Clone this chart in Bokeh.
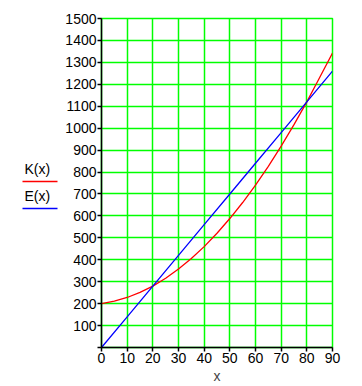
from bokeh.plotting import figure
from bokeh.models import Range1d, FixedTicker
from bokeh.layouts import row
from bokeh.embed import file_html
from bokeh.resources import INLINE
from bokeh.core.properties import value

x_k = [0, 5, 10, 15, 20, 25, 30, 35, 40, 45, 50, 55, 60, 65, 70, 75, 80, 85, 90]
k_vals = [200, 211, 228, 251, 280, 316, 358, 406, 460, 521, 588, 661, 740, 826, 918, 1016, 1120, 1231, 1342]
x_e = [0, 10, 20, 30, 40, 50, 60, 70, 80, 90]
e_vals = [0, 140, 280, 420, 560, 700, 840, 980, 1120, 1260]
x_ticks = [0, 10, 20, 30, 40, 50, 60, 70, 80, 90]
y_ticks = [0, 100, 200, 300, 400, 500, 600, 700, 800, 900, 1000, 1100, 1200, 1300, 1400, 1500]
series_names = ["K(x)", "E(x)"]
series_colors = ["#ff0000", "#0000ff"]

FONT = "Liberation Sans"
GREEN = "#00ff00"

# legend panel: its frame is aligned with the main frame (pixel rows 18..347)
leg = figure(width=62, height=386, output_backend="svg", toolbar_location=None,
             x_range=Range1d(0, 62), y_range=Range1d(347, 18),
             min_border=0, outline_line_color=None)
leg.axis.visible = False
leg.grid.visible = False
leg_text_y = [168, 195]
leg_line_y = [181, 208]
leg.text(x=[24, 24], y=leg_text_y, text=series_names, text_font=value(FONT),
         text_font_size="14px", text_baseline="middle", text_align="left", text_color="black")
leg.segment(x0=[22, 22], x1=[57, 57], y0=leg_line_y, y1=leg_line_y,
            line_color=series_colors, line_width=1.3)

p = figure(width=300, height=386, output_backend="svg", toolbar_location=None,
           x_range=Range1d(0, 90), y_range=Range1d(0, 1500),
           min_border_left=39, min_border_right=30, min_border_top=18, min_border_bottom=39,
           outline_line_color=GREEN, outline_line_width=1.5)

p.xaxis.ticker = FixedTicker(ticks=x_ticks)
p.yaxis.ticker = FixedTicker(ticks=y_ticks)
p.yaxis.major_label_overrides = {0: ""}
for ax in (p.xaxis, p.yaxis):
    ax.axis_line_color = "black"
    ax.axis_line_width = 1.5
    ax.major_tick_line_color = "black"
    ax.major_tick_line_width = 1.5
    ax.major_tick_out = 4
    ax.major_tick_in = 0
    ax.minor_tick_line_color = None
    ax.major_label_text_font = FONT
    ax.major_label_text_font_size = "14px"
    ax.major_label_text_color = "black"
    ax.major_label_standoff = 1
p.xaxis.axis_label = "x"
p.xaxis.axis_label_text_font = FONT
p.xaxis.axis_label_text_font_size = "14px"
p.xaxis.axis_label_text_font_style = "normal"
p.xaxis.axis_label_standoff = 2

p.grid.grid_line_color = GREEN
p.grid.grid_line_width = 1.5
p.grid.grid_line_alpha = 1.0

p.line(x_k, k_vals, line_color=series_colors[0], line_width=1.3)
p.line(x_e, e_vals, line_color=series_colors[1], line_width=1.3)

layout = row(leg, p, spacing=0)
open("out.html", "w").write(file_html(layout, INLINE))
